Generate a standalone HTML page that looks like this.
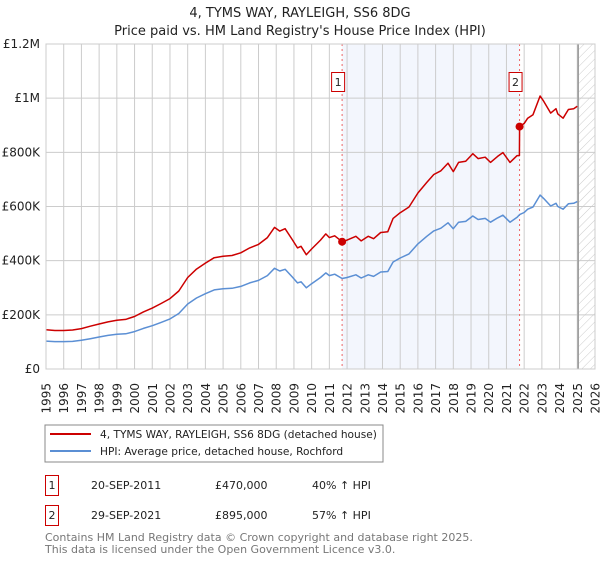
<!DOCTYPE html>
<html><head><meta charset="utf-8"><style>
body{margin:0;background:#fff;width:600px;height:560px;overflow:hidden;font-family:"DejaVu Sans","Liberation Sans",sans-serif}
svg text{font-family:"DejaVu Sans","Liberation Sans",sans-serif}
</style></head><body>
<svg id="c" width="600" height="560" viewBox="0 0 600 560" xmlns="http://www.w3.org/2000/svg">
<defs><pattern id="hatch" width="6" height="6" patternUnits="userSpaceOnUse" patternTransform="rotate(45)"><line x1="0" y1="0" x2="0" y2="6" stroke="#ccc" stroke-width="1"/></pattern></defs>
<text x="300" y="17" text-anchor="middle" font-size="13" fill="#222">4, TYMS WAY, RAYLEIGH, SS6 8DG</text>
<text x="300" y="35" text-anchor="middle" font-size="13" fill="#222">Price paid vs. HM Land Registry's House Price Index (HPI)</text>
<g id="plot"></g>
<g>
<rect x="45" y="425" width="338" height="37" fill="#fff" stroke="#888"/>
<line x1="50" y1="434" x2="91" y2="434" stroke="#cc0000" stroke-width="2"/>
<text x="100" y="438" font-size="10.6" fill="#222">4, TYMS WAY, RAYLEIGH, SS6 8DG (detached house)</text>
<line x1="50" y1="451" x2="91" y2="451" stroke="#5b8fd4" stroke-width="2"/>
<text x="100" y="455" font-size="10.6" fill="#222">HPI: Average price, detached house, Rochford</text>
</g>
<g font-size="11" fill="#222">
<rect x="45.5" y="475.5" width="13" height="20" fill="#fff" stroke="#cc0000"/>
<text x="52" y="489" text-anchor="middle">1</text>
<text x="91" y="489">20-SEP-2011</text>
<text x="215" y="489">£470,000</text>
<text x="312" y="489">40% ↑ HPI</text>
<rect x="45.5" y="505.5" width="13" height="20" fill="#fff" stroke="#cc0000"/>
<text x="52" y="519" text-anchor="middle">2</text>
<text x="91" y="519">29-SEP-2021</text>
<text x="215" y="519">£895,000</text>
<text x="312" y="519">57% ↑ HPI</text>
</g>
<text x="45" y="541" font-size="11" fill="#777">Contains HM Land Registry data © Crown copyright and database right 2025.</text>
<text x="45" y="553" font-size="11" fill="#777">This data is licensed under the Open Government Licence v3.0.</text>
</svg>
<script>
const yTicks=[0,200000,400000,600000,800000,1000000,1200000];
const yTickLabels=["£0","£200K","£400K","£600K","£800K","£1M","£1.2M"];
const xTicks=[1995,1996,1997,1998,1999,2000,2001,2002,2003,2004,2005,2006,2007,2008,2009,2010,2011,2012,2013,2014,2015,2016,2017,2018,2019,2020,2021,2022,2023,2024,2025,2026];
const hpiDates=[1995.0,1995.5,1996.0,1996.5,1997.0,1997.5,1998.0,1998.5,1999.0,1999.5,2000.0,2000.5,2001.0,2001.5,2002.0,2002.5,2003.0,2003.5,2004.0,2004.5,2005.0,2005.5,2006.0,2006.5,2007.0,2007.5,2007.9,2008.2,2008.5,2008.9,2009.2,2009.4,2009.7,2010.0,2010.5,2010.8,2011.0,2011.3,2011.72,2012.0,2012.5,2012.8,2013.2,2013.5,2013.9,2014.3,2014.6,2015.0,2015.5,2016.0,2016.5,2016.9,2017.3,2017.7,2018.0,2018.3,2018.7,2019.1,2019.4,2019.8,2020.1,2020.5,2020.8,2021.2,2021.6,2021.74,2022.0,2022.2,2022.5,2022.9,2023.1,2023.5,2023.8,2023.9,2024.2,2024.5,2024.8,2025.0];
const hpiValues=[103,101,101,102,106,112,118,124,128,130,138,150,160,172,185,205,240,262,278,292,296,298,305,318,327,345,372,362,368,340,318,322,300,315,338,355,345,350,334,338,348,336,348,342,358,360,395,410,425,462,490,510,520,540,518,542,545,565,552,556,542,558,568,542,560,570,578,590,598,642,630,602,612,600,590,610,612,618];
const priceDates=[1995.0,1995.5,1996.0,1996.5,1997.0,1997.5,1998.0,1998.5,1999.0,1999.5,2000.0,2000.5,2001.0,2001.5,2002.0,2002.5,2003.0,2003.5,2004.0,2004.5,2005.0,2005.5,2006.0,2006.5,2007.0,2007.5,2007.9,2008.2,2008.5,2008.9,2009.2,2009.4,2009.7,2010.0,2010.5,2010.8,2011.0,2011.3,2011.72,2012.0,2012.5,2012.8,2013.2,2013.5,2013.9,2014.3,2014.6,2015.0,2015.5,2016.0,2016.5,2016.9,2017.3,2017.7,2018.0,2018.3,2018.7,2019.1,2019.4,2019.8,2020.1,2020.5,2020.8,2021.2,2021.6,2021.73,2021.74,2022.0,2022.2,2022.5,2022.9,2023.1,2023.5,2023.8,2023.9,2024.2,2024.5,2024.8,2025.0];
const priceValues=[145,142,142,144,149,158,166,174,180,183,194,211,225,242,260,288,338,369,391,411,416,419,429,447,460,485,523,509,518,478,447,453,422,443,476,499,485,492,470,476,490,473,490,481,504,507,556,577,598,650,689,718,732,760,729,763,767,795,777,782,763,785,799,763,788,788,895,907,926,939,1008,989,945,961,942,926,958,961,970];
const saleDates=[2011.72,2021.74];
const salePrices=[470,895];
const saleLabels=["1","2"];

const X0=46,X1=595,Y0=369,Y1=44;
const xs=t=>X0+(t-1995)/(2026-1995)*(X1-X0);
const ys=v=>Y0-v/1200000*(Y0-Y1);
const NS="http://www.w3.org/2000/svg";
const g=document.getElementById('plot');
function mk(tag,attrs){const e=document.createElementNS(NS,tag);for(const k in attrs)e.setAttribute(k,attrs[k]);g.appendChild(e);return e;}

let el=mk('rect',{x:xs(saleDates[0]),y:Y1,width:xs(saleDates[1])-xs(saleDates[0]),height:Y0-Y1,fill:'#f3f6fd'});


el=mk('rect',{x:xs(2025.05),y:Y1,width:X1-xs(2025.05),height:Y0-Y1,fill:'url(#hatch)'});


xTicks.forEach((t,i)=>{
  let l=mk('line',{x1:xs(t),x2:xs(t),y1:Y1,y2:Y0,stroke:'#ccc','stroke-width':1});
  
  
  const tx0=xs(t)+4.5, ty0=383;
  let tx=mk('text',{x:tx0,y:ty0,'text-anchor':'end','font-size':12,fill:'#222',transform:'rotate(-90 '+tx0+' '+ty0+')'});
  tx.textContent=t;
  
  
});
yTicks.forEach((v,i)=>{
  let l=mk('line',{x1:X0,x2:X1,y1:ys(v),y2:ys(v),stroke:'#ccc','stroke-width':1});
  
  
  let tx=mk('text',{x:X0-6,y:ys(v)+4,'text-anchor':'end','font-size':12,fill:'#222'});
  tx.textContent=yTickLabels[i];
  
  
});
el=mk('line',{x1:xs(2025.05),x2:xs(2025.05),y1:Y1,y2:Y0,stroke:'#999','stroke-width':1.5});


saleDates.forEach((d,i)=>{
  let l=mk('line',{x1:xs(d),x2:xs(d),y1:Y1,y2:Y0,stroke:'#e66','stroke-width':1,'stroke-dasharray':'2,3'});
  
  
});
function path(dates,vals,col,name){
  const d=dates.map((t,i)=>(i?'L':'M')+xs(t).toFixed(1)+','+ys(vals[i]*1000).toFixed(1)).join('');
  let p=mk('path',{d:d,fill:'none',stroke:col,'stroke-width':1.5,'stroke-linejoin':'round'});
  
  
}
path(hpiDates,hpiValues,'#5b8fd4','hpi-line');
path(priceDates,priceValues,'#cc0000','property-price-line');
saleDates.forEach((d,i)=>{
  let c=mk('circle',{cx:xs(d),cy:ys(salePrices[i]*1000),r:4,fill:'#cc0000'});
  
  
  let r=mk('rect',{x:xs(d)-10.5,y:72.5,width:13,height:19,fill:'#fff',stroke:'#cc0000'});
  
  
  let t=mk('text',{x:xs(d)-4,y:86,'text-anchor':'middle','font-size':11,fill:'#222'});
  t.textContent=saleLabels[i];
  
  
});
el=mk('rect',{x:X0,y:Y1,width:X1-X0,height:Y0-Y1,fill:'none',stroke:'#ccc'});


</script>
</body></html>
